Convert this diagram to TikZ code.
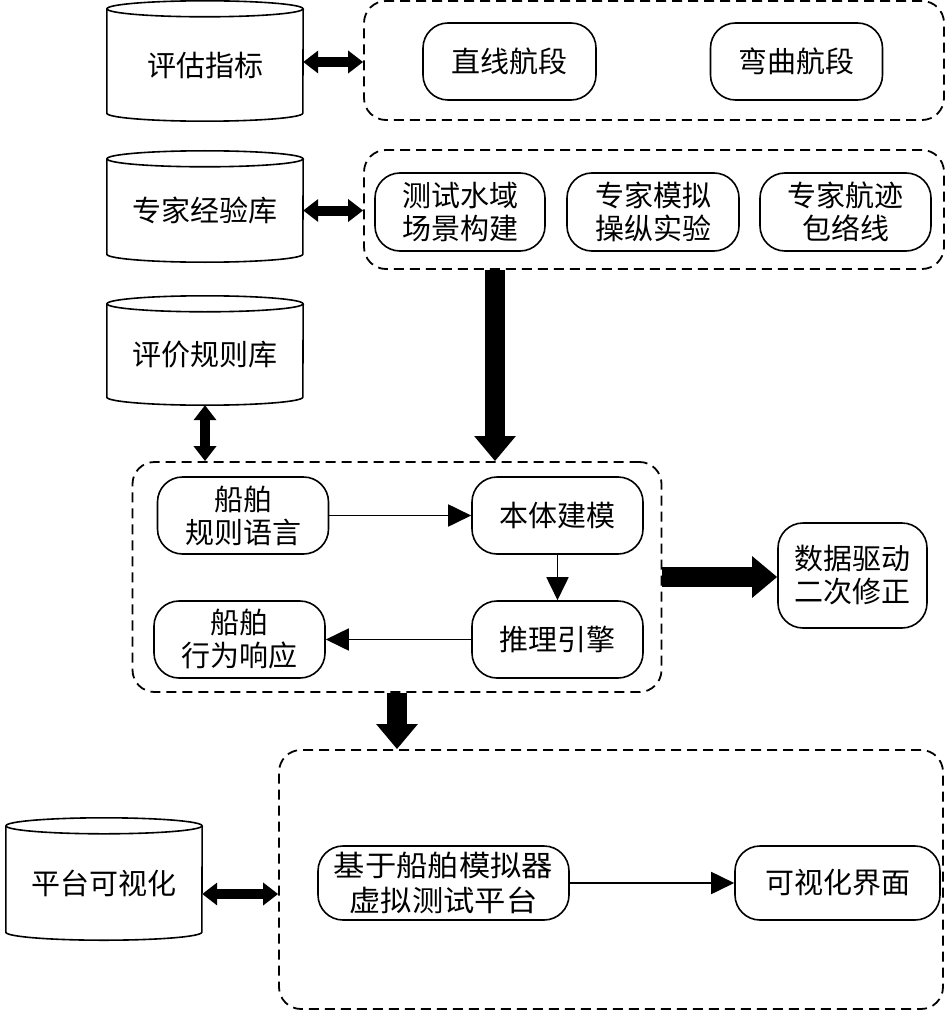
\documentclass[tikz,border=0pt]{standalone}
\usepackage{fontspec}
\setmainfont{Noto Sans CJK SC}
\newfontfamily\cjkwide[FakeStretch=1.08]{Noto Sans CJK SC}
\usetikzlibrary{arrows.meta,calc}
\tikzset{
  grp/.style={draw, dash pattern=on 10pt off 6pt, line width=1.8pt, rounded corners=22pt, inner sep=0pt},
  rbox/.style={draw, line width=1.6pt, rounded corners=25pt, align=center, inner sep=0pt,
               font=\fontsize{29pt}{33pt}\selectfont},
  cylbody/.style={inner sep=0pt, minimum width=196pt, align=center, font=\fontsize{29pt}{33pt}\selectfont},
  cylline/.style={line width=1.6pt},
  thinarr/.style={line width=1.8pt, -{Triangle[length=23pt,width=22pt]}},
  fatarr/.style={line width=20pt, -{Triangle[length=25pt,width=40pt]}},
  dblarr/.style={line width=10pt, {Triangle[length=15pt,width=22pt]}-{Triangle[length=15pt,width=22pt]}},
}
\begin{document}
\begin{tikzpicture}[x=1pt,y=1pt]
\useasboundingbox (0,0) rectangle (945,-1011);
% cylinders
\node[cylbody, minimum height=96pt] (c1) at (205,-65) {评估指标};
\node[cylbody, minimum height=87pt] (c2) at (205,-210.5) {专家经验库};
\node[cylbody, minimum height=85pt] (c3) at (205,-354.5) {评价规则库};
\node[cylbody, minimum height=98pt] (c4) at (104,-883) {平台可视化};
\foreach \c in {c1,c2,c3,c4}{
  \draw[cylline] ($(\c.north west)+(0,8pt)$) -- (\c.south west)
     arc[start angle=180,end angle=360,x radius=98pt,y radius=8pt]
     -- ($(\c.north east)+(0,8pt)$);
  \draw[cylline] ($(\c.north)+(0,8pt)$) ellipse[x radius=98pt,y radius=8pt];
}
% dashed groups
\node[grp, minimum width=580pt, minimum height=119pt] (g1) at (654,-60.5) {};
\node[grp, minimum width=580pt, minimum height=119pt] (g2) at (654,-209.5) {};
\node[grp, minimum width=529pt, minimum height=230pt] (g3) at (397,-577) {};
\node[grp, minimum width=664pt, minimum height=259pt] (g4) at (611,-879.5) {};
% boxes in group 1
\node[rbox, minimum width=173pt, minimum height=77pt] (straight) at (509.5,-61.5) {直线航段};
\node[rbox, minimum width=172pt, minimum height=77pt] (curve) at (796.5,-61.5) {弯曲航段};
% boxes in group 2
\node[rbox, minimum width=170pt, minimum height=78pt] (scene) at (460,-212) {测试水域\\场景构建};
\node[rbox, minimum width=172pt, minimum height=78pt] (expt) at (653,-212) {专家模拟\\操纵实验};
\node[rbox, minimum width=171pt, minimum height=78pt] (track) at (845.5,-212) {专家航迹\\包络线};
% boxes in group 3
\node[rbox, minimum width=171pt, minimum height=77pt] (rule) at (243,-515.5) {船舶\\规则语言};
\node[rbox, minimum width=171pt, minimum height=77pt] (onto) at (557.5,-515.5) {本体建模};
\node[rbox, minimum width=171pt, minimum height=77pt] (resp) at (239.5,-639.5) {船舶\\行为响应};
\node[rbox, minimum width=171pt, minimum height=77pt] (reason) at (557.5,-639.5) {推理引擎};
% data box
\node[rbox, minimum width=149pt, minimum height=105pt] (data) at (852.5,-575.5) {数据驱动\\二次修正};
% boxes in group 4
\node[rbox, minimum width=251pt, minimum height=74pt, font=\cjkwide\fontsize{29pt}{35pt}\selectfont] (sim) at (443.5,-883) {基于船舶模拟器\\虚拟测试平台};
\node[rbox, minimum width=205pt, minimum height=74pt] (vis) at (837.5,-883) {可视化界面};
% double arrows
\draw[dblarr] ([yshift=3pt]c1.east) -- ([yshift=3pt]c1.east -| g1.west);
\draw[dblarr] (c2.east) -- (c2.east -| g2.west);
\draw[dblarr] ([yshift=-8pt]c3.south) -- (c3.south |- g3.north);
\draw[dblarr] ([yshift=-11pt]c4.east) -- ([yshift=-11pt]c4.east -| g4.west);
% fat arrows
\draw[fatarr] ([xshift=-159pt]g2.south) -- ([xshift=-159pt]g2.south |- g3.north);
\draw[fatarr] (g3.east) -- (g3.east -| data.west);
\draw[fatarr] (g3.south) -- (g3.south |- g4.north);
% thin arrows
\draw[thinarr] (rule.east) -- (onto.west);
\draw[thinarr] (onto.south) -- (reason.north);
\draw[thinarr] (reason.west) -- (resp.east);
\draw[thinarr] (sim.east) -- (vis.west);
\end{tikzpicture}
\end{document}
